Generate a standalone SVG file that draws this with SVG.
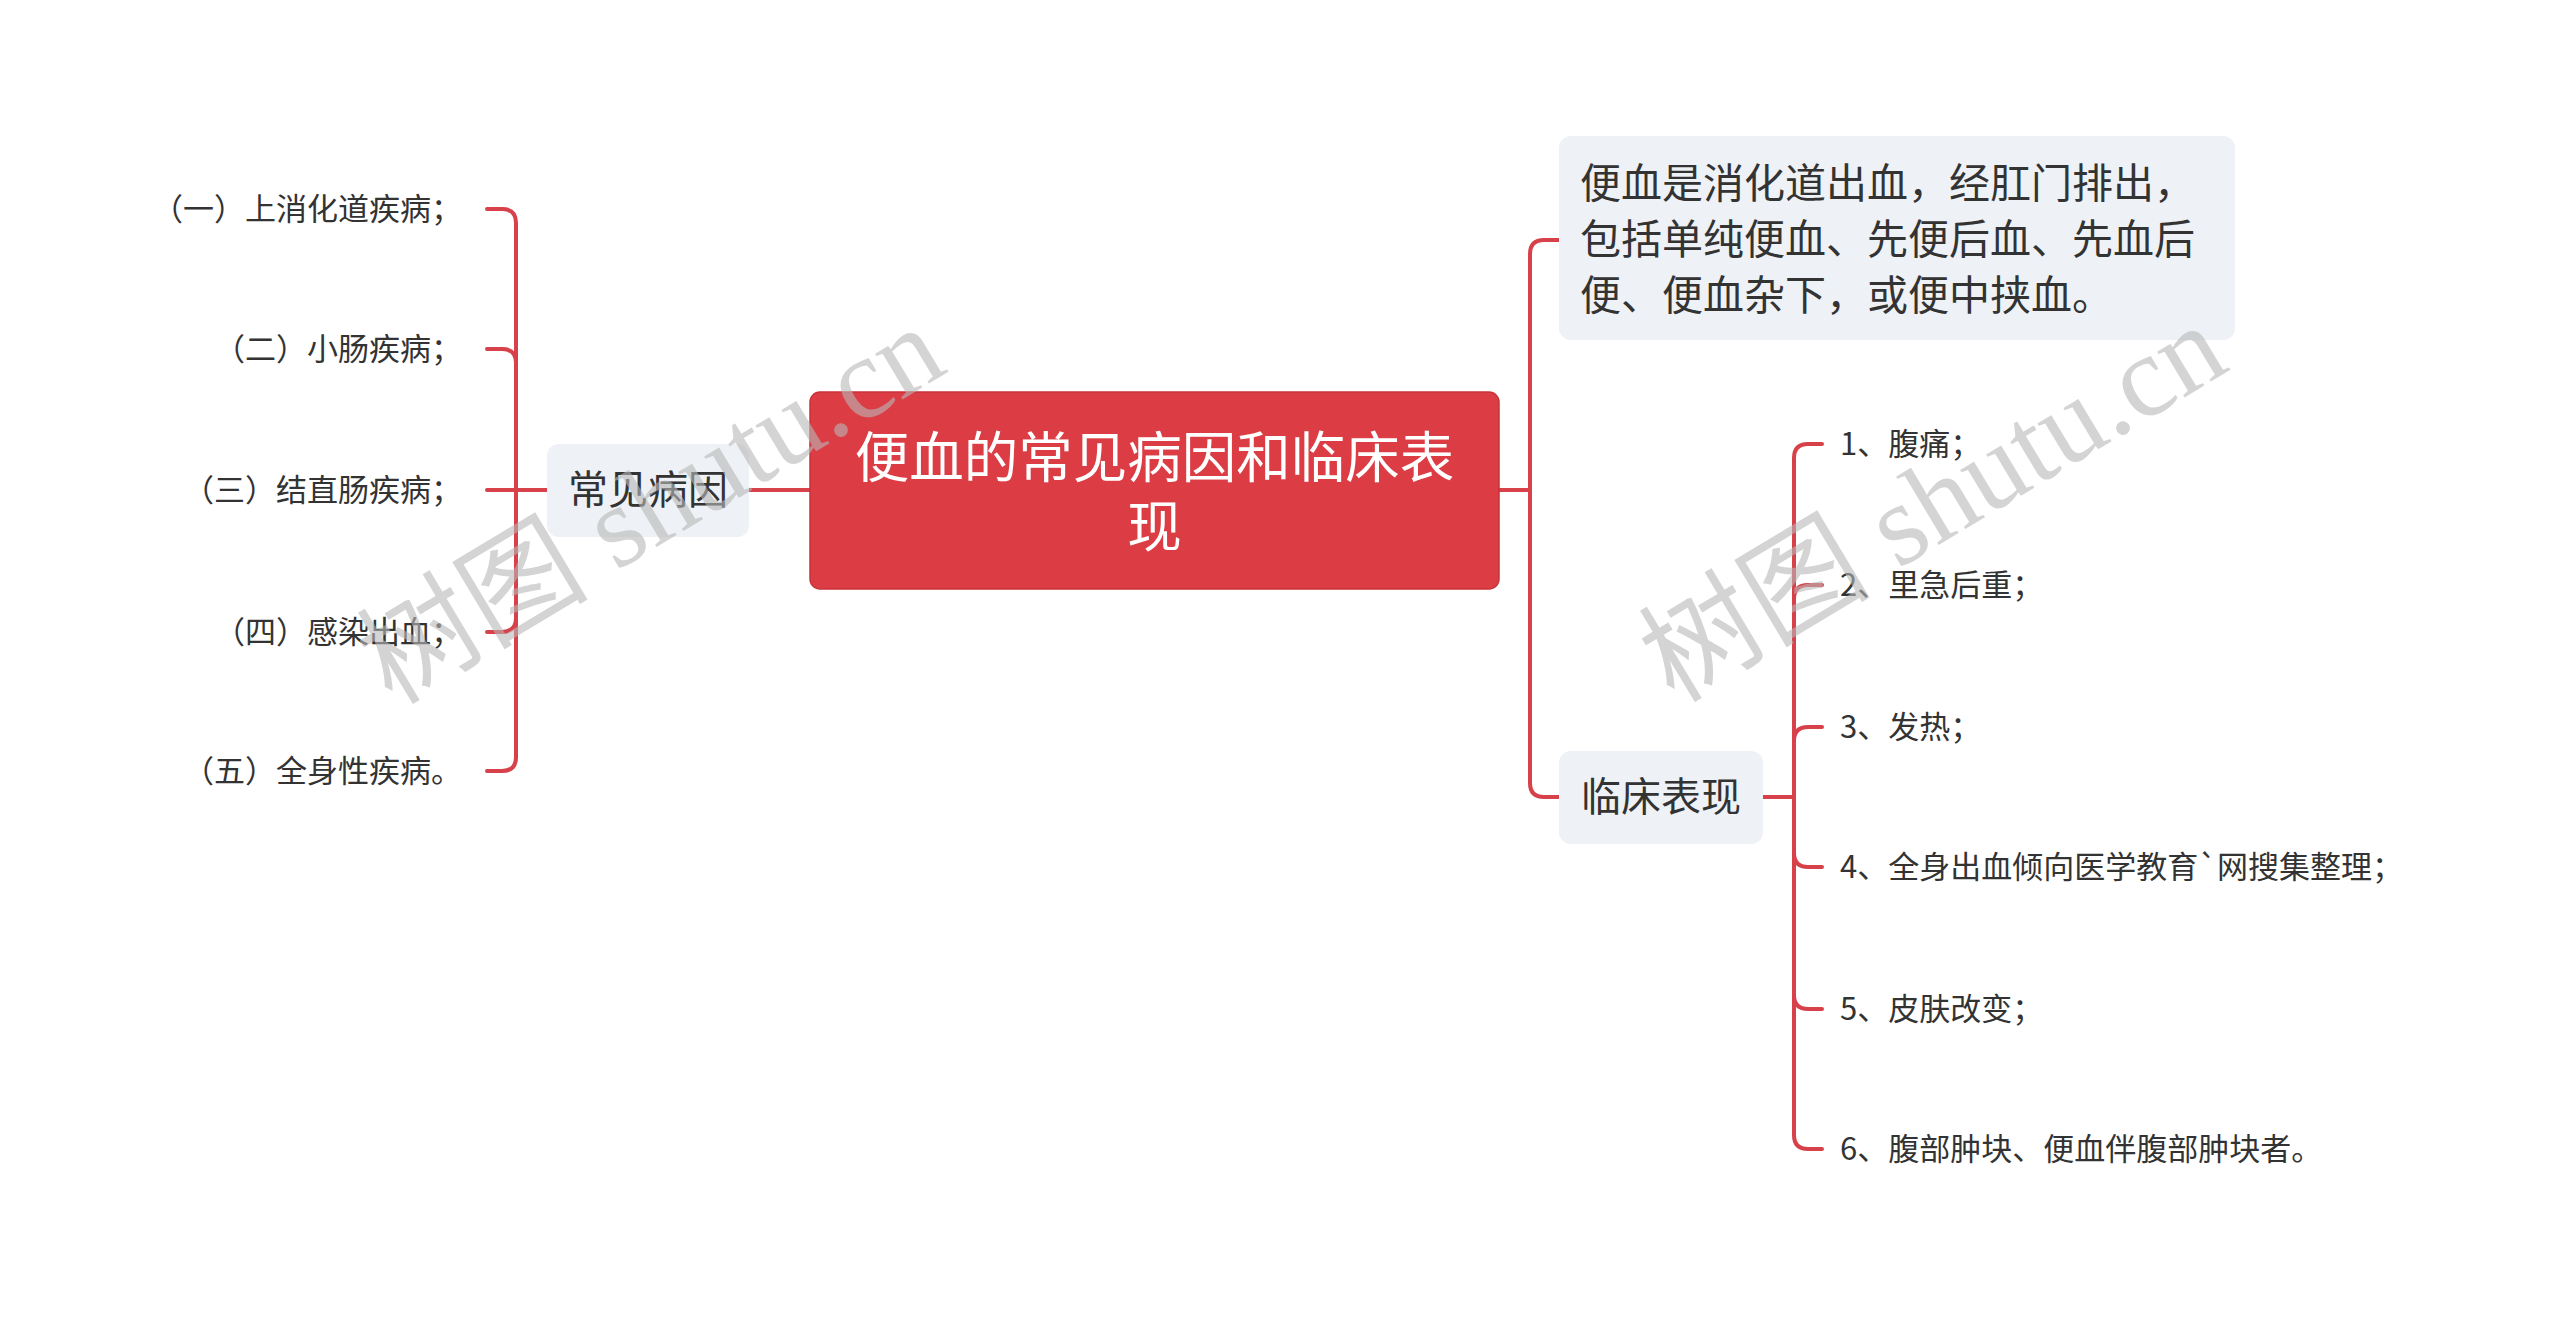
<svg xmlns="http://www.w3.org/2000/svg" width="2560" height="1323" viewBox="0 0 2560 1323">
<style>
.t{font-family:"Noto Sans CJK SC","Noto Sans",sans-serif;fill:#333333}
.leaf{font-size:31px}
.sub{font-size:40px}
.desc{font-size:41px}
.box{fill:#eef1f5}
.ln{fill:none;stroke:#d7414a;stroke-width:4;stroke-linecap:round;stroke-linejoin:round}
.wm{font-family:"Liberation Serif","Noto Sans CJK SC",serif;font-size:116px;fill:#b8b8b8;opacity:0.6}
</style>
<rect width="2560" height="1323" fill="#ffffff"/>
<g id="connectors">
<path class="ln" d="M749 490 H810"/>
<path class="ln" d="M547 490 H516"/>
<path class="ln" d="M516 490 V223 Q516 209 502 209 H487"/>
<path class="ln" d="M516 490 V363 Q516 349 502 349 H487"/>
<path class="ln" d="M516 490 H487"/>
<path class="ln" d="M516 490 V618 Q516 632 502 632 H487"/>
<path class="ln" d="M516 490 V757 Q516 771 502 771 H487"/>
<path class="ln" d="M1499 490 H1530"/>
<path class="ln" d="M1530 490 V254 Q1530 240 1544 240 H1559"/>
<path class="ln" d="M1530 490 V783 Q1530 797 1544 797 H1559"/>
<path class="ln" d="M1763 797 H1794"/>
<path class="ln" d="M1794 797 V458 Q1794 444 1808 444 H1822"/>
<path class="ln" d="M1794 797 V599 Q1794 585 1808 585 H1822"/>
<path class="ln" d="M1794 797 V741 Q1794 727 1808 727 H1822"/>
<path class="ln" d="M1794 797 V853 Q1794 867 1808 867 H1822"/>
<path class="ln" d="M1794 797 V995 Q1794 1009 1808 1009 H1822"/>
<path class="ln" d="M1794 797 V1135 Q1794 1149 1808 1149 H1822"/>
</g>
<g id="root">
<rect x="810" y="392" width="689" height="197" rx="10" fill="#dc3d45" stroke="#c9323a" stroke-width="1.5"/>
<text x="1154.5" y="477" text-anchor="middle" font-family="Noto Sans CJK SC, sans-serif" font-size="54.5" fill="#ffffff">便血的常见病因和临床表</text>
<text x="1154.5" y="546" text-anchor="middle" font-family="Noto Sans CJK SC, sans-serif" font-size="54.5" fill="#ffffff">现</text>
</g>
<g id="causes">
<rect class="box" x="547" y="444" width="202" height="93" rx="12"/>
<text class="t sub" x="648" y="504" text-anchor="middle">常见病因</text>
</g>
<g id="cause1"><text class="t leaf" x="462" y="220" text-anchor="end">（一）上消化道疾病；</text></g>
<g id="cause2"><text class="t leaf" x="462" y="360" text-anchor="end">（二）小肠疾病；</text></g>
<g id="cause3"><text class="t leaf" x="462" y="501" text-anchor="end">（三）结直肠疾病；</text></g>
<g id="cause4"><text class="t leaf" x="462" y="643" text-anchor="end">（四）感染出血；</text></g>
<g id="cause5"><text class="t leaf" x="462" y="782" text-anchor="end">（五）全身性疾病。</text></g>
<g id="definition">
<rect class="box" x="1559" y="136" width="676" height="204" rx="12"/>
<text class="t desc" x="1580" y="198">便血是消化道出血，经肛门排出，</text>
<text class="t desc" x="1580" y="254">包括单纯便血、先便后血、先血后</text>
<text class="t desc" x="1580" y="310">便、便血杂下，或便中挟血。</text>
</g>
<g id="clinical">
<rect class="box" x="1559" y="751" width="204" height="93" rx="12"/>
<text class="t sub" x="1661" y="811" text-anchor="middle">临床表现</text>
</g>
<g id="sym1"><text class="t leaf" x="1840" y="455">1、腹痛；</text></g>
<g id="sym2"><text class="t leaf" x="1840" y="596">2、里急后重；</text></g>
<g id="sym3"><text class="t leaf" x="1840" y="738">3、发热；</text></g>
<g id="sym4"><text class="t leaf" x="1840" y="878">4、全身出血倾向医学教育`网搜集整理；</text></g>
<g id="sym5"><text class="t leaf" x="1840" y="1020">5、皮肤改变；</text></g>
<g id="sym6"><text class="t leaf" x="1840" y="1160">6、腹部肿块、便血伴腹部肿块者。</text></g>
<g id="watermarks">
<text class="wm" transform="translate(392 706) rotate(-31)">树图 shutu.cn</text>
<text class="wm" transform="translate(1674 704) rotate(-31)">树图 shutu.cn</text>
</g>
</svg>
